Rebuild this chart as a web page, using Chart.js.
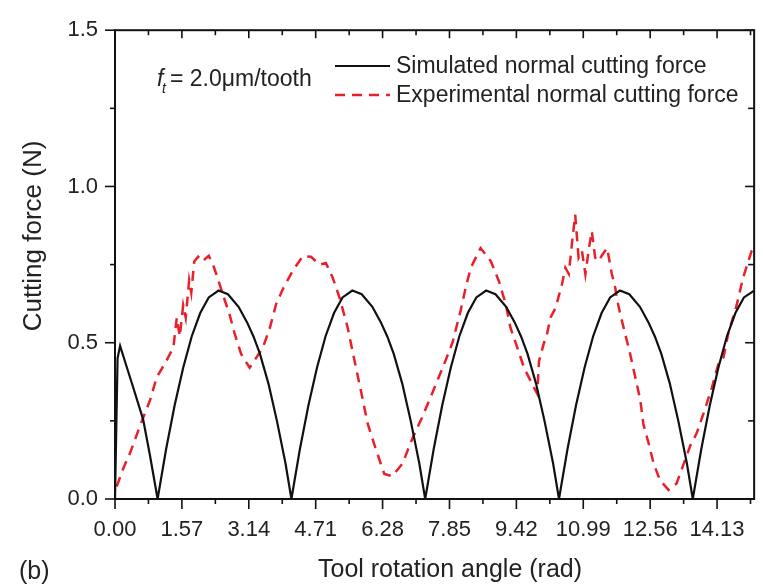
<!DOCTYPE html>
<html>
<head>
<meta charset="utf-8">
<script src="https://cdn.jsdelivr.net/npm/chart.js@4.4.0/dist/chart.umd.min.js"></script>
<style>
html, body { margin: 0; padding: 0; background: #fff; }
</style>
</head>
<body>
<canvas id="forceChart" width="763" height="588"></canvas>
<script>
// simulated normal cutting force (rad, N)
const simX = [0, 0.06, 0.12, 0.2, 0.42, 0.66, 0.82, 1.0,
    1.2, 1.4, 1.6, 1.8, 2.0, 2.2, 2.43, 2.65, 2.9, 3.1, 3.25, 3.4, 3.6, 3.8, 4.0, 4.14,
    4.34, 4.54, 4.74, 4.94, 5.14, 5.34, 5.57, 5.79, 6.04, 6.24, 6.39, 6.54, 6.74, 6.94, 7.14, 7.28,
    7.48, 7.68, 7.88, 8.08, 8.28, 8.48, 8.71, 8.93, 9.18, 9.38, 9.53, 9.68, 9.88, 10.08, 10.28, 10.42,
    10.62, 10.82, 11.02, 11.22, 11.42, 11.62, 11.85, 12.07, 12.32, 12.52, 12.67, 12.82, 13.02, 13.22, 13.42, 13.56,
    13.76, 13.96, 14.16, 14.36, 14.56, 14.76, 15.0];
const simY = [0, 0.45, 0.49, 0.455, 0.36, 0.255, 0.14, 0,
    0.16, 0.3, 0.42, 0.52, 0.595, 0.645, 0.667, 0.655, 0.615, 0.565, 0.52, 0.465, 0.37, 0.25, 0.115, 0,
    0.16, 0.3, 0.42, 0.52, 0.595, 0.645, 0.667, 0.655, 0.615, 0.565, 0.52, 0.465, 0.37, 0.25, 0.115, 0,
    0.16, 0.3, 0.42, 0.52, 0.595, 0.645, 0.667, 0.655, 0.615, 0.565, 0.52, 0.465, 0.37, 0.25, 0.115, 0,
    0.16, 0.3, 0.42, 0.52, 0.595, 0.645, 0.667, 0.655, 0.615, 0.565, 0.52, 0.465, 0.37, 0.25, 0.115, 0,
    0.16, 0.3, 0.42, 0.52, 0.595, 0.645, 0.667];

// experimental normal cutting force (rad, N)
const expX = [0.04, 0.2, 0.35, 0.62, 0.82, 0.98, 1.17, 1.37, 1.45, 1.52, 1.6, 1.66, 1.74, 1.79, 1.86, 1.95, 2.05, 2.2, 2.3,
    2.38, 2.53, 2.69, 2.81, 2.96, 3.16, 3.32, 3.47, 3.63, 3.78, 3.94, 4.17, 4.41, 4.6, 4.8, 4.95, 5.11, 5.27, 5.46,
    5.62, 5.77, 5.93, 6.12, 6.32, 6.51, 6.75, 6.98, 7.21, 7.45, 7.72, 7.92, 8.11, 8.23, 8.35, 8.58, 8.82, 9.01,
    9.17, 9.28, 9.44, 9.6, 9.83, 9.91, 9.95, 10.06, 10.14, 10.22, 10.34, 10.49, 10.57, 10.65, 10.73, 10.8, 10.88,
    10.96, 11.04, 11.12, 11.19, 11.27, 11.35, 11.43, 11.55, 11.66, 11.74, 11.78, 11.86, 11.97, 12.08, 12.21,
    12.33, 12.4, 12.52, 12.64, 12.79, 12.99, 13.18, 13.34, 13.5, 13.65, 13.81, 14.0, 14.16, 14.28, 14.39, 14.59,
    14.74, 14.94, 15.0];
const expY = [0.04, 0.1, 0.146, 0.246, 0.315, 0.39, 0.433, 0.485, 0.58, 0.52, 0.62, 0.58, 0.7, 0.66, 0.76, 0.775, 0.76, 0.778, 0.75,
    0.719, 0.655, 0.59, 0.528, 0.464, 0.42, 0.453, 0.485, 0.545, 0.623, 0.672, 0.73, 0.777, 0.775, 0.75, 0.755, 0.708, 0.644, 0.549,
    0.443, 0.347, 0.241, 0.16, 0.08, 0.073, 0.114, 0.194, 0.262, 0.34, 0.43, 0.5, 0.602, 0.676, 0.74, 0.803, 0.761, 0.697,
    0.623, 0.549, 0.485, 0.42, 0.357, 0.337, 0.44, 0.496, 0.528, 0.58, 0.612, 0.687, 0.74, 0.72, 0.825, 0.91, 0.772,
    0.793, 0.719, 0.8, 0.857, 0.772, 0.761, 0.78, 0.803, 0.72, 0.676, 0.64, 0.59, 0.53, 0.47, 0.39,
    0.315, 0.24, 0.18, 0.114, 0.06, 0.029, 0.05, 0.11, 0.17, 0.21, 0.273, 0.352, 0.432, 0.453, 0.528, 0.62,
    0.708, 0.793, 0.8];

const xTickLabels = [0, 1.57, 3.14, 4.71, 6.28, 7.85, 9.42, 10.99, 12.56, 14.13];
const yTickLabels = [0, 0.5, 1.0, 1.5];
const seriesNames = ['Simulated normal cutting force', 'Experimental normal cutting force'];

const FONT = "'Liberation Sans', Arial, sans-serif";
const TEXT = '#222';

function pairs(xs, ys) {
    return xs.map((v, i) => ({ x: v, y: ys[i] }));
}

const framePlugin = {
    id: 'frame',
    afterDraw(chart) {
        const ctx = chart.ctx;
        const a = chart.chartArea;
        const xs = chart.scales.x;
        const ys = chart.scales.y;
        const seg = (x1, y1, x2, y2) => { ctx.beginPath(); ctx.moveTo(x1, y1); ctx.lineTo(x2, y2); ctx.stroke(); };

        ctx.save();
        ctx.strokeStyle = '#111';
        ctx.lineWidth = 2;
        ctx.strokeRect(a.left, a.top, a.right - a.left, a.bottom - a.top);

        ctx.lineWidth = 1.6;
        xTickLabels.forEach(v => {
            const px = xs.getPixelForValue(v);
            seg(px, a.bottom, px, a.bottom + 10);
            seg(px, a.top, px, a.top + 8);
            const pm = xs.getPixelForValue(v + 0.785);
            if (pm < a.right) {
                seg(pm, a.bottom, pm, a.bottom + 5);
                seg(pm, a.top, pm, a.top + 5);
            }
        });
        yTickLabels.forEach(v => {
            const py = ys.getPixelForValue(v);
            seg(a.left - 10, py, a.left, py);
            seg(a.right, py, a.right - 9, py);
            if (v < 1.5) {
                const pm = ys.getPixelForValue(v + 0.25);
                seg(a.left - 5, pm, a.left, pm);
                seg(a.right, pm, a.right - 6, pm);
            }
        });

        // legend
        const ds = chart.data.datasets;
        [66, 95].forEach((ly, i) => {
            ctx.strokeStyle = ds[i].borderColor;
            ctx.lineWidth = ds[i].borderWidth;
            ctx.setLineDash(ds[i].borderDash || []);
            seg(335, ly, 390, ly);
            ctx.setLineDash([]);
            ctx.fillStyle = TEXT;
            ctx.font = '23px ' + FONT;
            ctx.textAlign = 'left';
            ctx.textBaseline = 'middle';
            ctx.fillText(seriesNames[i], 396, ly + 1);
        });

        // feed annotation
        ctx.fillStyle = TEXT;
        ctx.textBaseline = 'alphabetic';
        ctx.font = 'italic 23px ' + FONT;
        ctx.fillText('f', 157, 86);
        ctx.font = 'italic 14px ' + FONT;
        ctx.fillText('t', 162, 93);
        ctx.font = '23px ' + FONT;
        ctx.fillText('= 2.0\u03bcm/tooth', 170, 86);

        // axis titles
        ctx.font = '25px ' + FONT;
        ctx.textAlign = 'center';
        ctx.textBaseline = 'middle';
        ctx.fillText('Tool rotation angle (rad)', 450, 570);
        ctx.textAlign = 'left';
        ctx.fillText('(b)', 19, 572);
        ctx.save();
        ctx.translate(34, 236);
        ctx.rotate(-Math.PI / 2);
        ctx.textAlign = 'center';
        ctx.font = '26px ' + FONT;
        ctx.fillText('Cutting force (N)', 0, 0);
        ctx.restore();

        ctx.restore();
    }
};

const ctx = document.getElementById('forceChart').getContext('2d');
const forceChart = new Chart(ctx, {
    type: 'line',
    data: {
        datasets: [
            {
                label: seriesNames[0],
                data: pairs(simX, simY),
                borderColor: '#111111',
                borderWidth: 2.2,
                pointRadius: 0,
                tension: 0,
                fill: false
            },
            {
                label: seriesNames[1],
                data: pairs(expX, expY),
                borderColor: '#e8202a',
                borderWidth: 2.5,
                borderDash: [10, 7],
                pointRadius: 0,
                tension: 0,
                fill: false
            }
        ]
    },
    options: {
        responsive: false,
        animation: false,
        layout: { padding: { left: 0, top: 26, right: 7, bottom: 0 } },
        plugins: {
            legend: { display: false },
            tooltip: { enabled: false }
        },
        scales: {
            x: {
                type: 'linear',
                min: 0,
                max: 15,
                afterBuildTicks: scale => { scale.ticks = xTickLabels.map(v => ({ value: v })); },
                afterFit: scale => { scale.height = 89; },
                grid: { display: false, drawTicks: false },
                border: { display: false },
                ticks: {
                    padding: 18,
                    maxRotation: 0,
                    autoSkip: false,
                    color: TEXT,
                    font: { family: FONT, size: 22 },
                    callback: v => v.toFixed(2)
                }
            },
            y: {
                min: 0,
                max: 1.5,
                afterBuildTicks: scale => { scale.ticks = yTickLabels.map(v => ({ value: v })); },
                afterFit: scale => { scale.width = 115; },
                grid: { display: false, drawTicks: false },
                border: { display: false },
                ticks: {
                    padding: 17,
                    color: TEXT,
                    font: { family: FONT, size: 22 },
                    callback: v => v.toFixed(1)
                }
            }
        }
    },
    plugins: [framePlugin]
});
</script>
</body>
</html>
